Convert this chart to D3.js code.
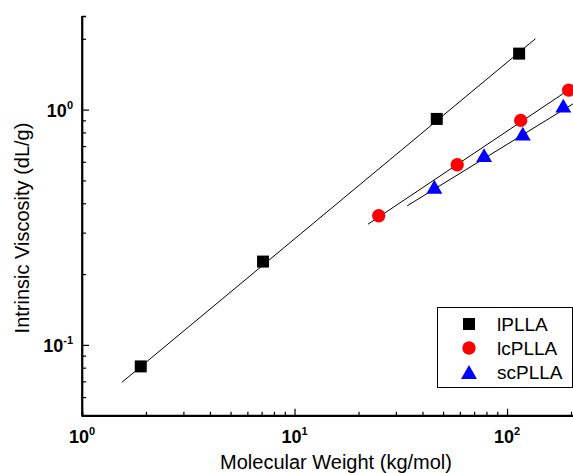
<!DOCTYPE html>
<html>
<head>
<meta charset="utf-8">
<script src="https://cdn.jsdelivr.net/npm/d3@7"></script>
<style>
  html, body { margin: 0; padding: 0; background: #fff; }
  svg { display: block; }
  text { font-family: "Liberation Sans", Arial, Helvetica, sans-serif; fill: #000; }
</style>
</head>
<body>
<svg id="chart" width="573" height="473"></svg>
<script>
// Mark–Houwink data: molecular weight (kg/mol) vs intrinsic viscosity (dL/g)
const seriesNames = ["lPLLA", "lcPLLA", "scPLLA"];
const seriesColors = ["#000000", "#ff0000", "#0000ff"];
const seriesShapes = ["square", "circle", "triangle"];

const lPLLA  = [[1.89, 0.081], [7.11, 0.226], [46.7, 0.913], [114, 1.73]];
const lcPLLA = [[24.9, 0.354], [58.3, 0.583], [116, 0.900], [195, 1.21]];
const scPLLA = [[45.5, 0.470], [78.0, 0.640], [118.6, 0.791], [184, 1.04]];

// straight-line (log-log) fits, given by their two end points
const fitLPLLA  = [[1.54, 0.0693], [136, 2.00]];
const fitLcPLLA = [[22.2, 0.326], [230, 1.34]];
const fitScPLLA = [[33.9, 0.390], [230, 1.13]];

const xMajorTicks = [1, 10, 100];
const yMajorTicks = [0.1, 1];
const tickExponents = { 1: "0", 10: "1", 100: "2", 0.1: "-1" };

const series = [lPLLA, lcPLLA, scPLLA];
const fits = [fitLPLLA, fitLcPLLA, fitScPLLA];

const svg = d3.select("#chart");

const x = d3.scaleLog().domain([1, 220]).range([82, 579.8]);
const y = d3.scaleLog().domain([0.05, 2.5]).range([415.7, 16]);

const xMinor = [];
[1, 10, 100].forEach(d => { for (let k = 2; k <= 9; k++) { const v = d * k; if (v < 220) xMinor.push(v); } });
const yMinor = [];
[0.01, 0.1, 1].forEach(d => { for (let k = 2; k <= 9; k++) { const v = +(d * k).toFixed(4); if (v > 0.05 && v < 2.5) yMinor.push(v); } });

// fit lines
const line = d3.line().x(d => x(d[0])).y(d => y(d[1]));
svg.append("g").selectAll("path").data(fits).join("path")
  .attr("d", line)
  .attr("fill", "none")
  .attr("stroke", "#000")
  .attr("stroke-width", 1);

// symbols
const symbolFor = shape => {
  if (shape === "square") return d3.symbol(d3.symbolSquare, 144)();
  if (shape === "circle") return d3.symbol(d3.symbolCircle, 140)();
  return d3.symbol(d3.symbolTriangle, 110)();
};
// shift triangles so their bounding box is centred on the point
const shapeOffset = shape => shape === "triangle" ? 2.3 : 0;

series.forEach((pts, i) => {
  svg.append("g").selectAll("path").data(pts).join("path")
    .attr("d", symbolFor(seriesShapes[i]))
    .attr("transform", d => `translate(${x(d[0])},${y(d[1]) + shapeOffset(seriesShapes[i])})`)
    .attr("fill", seriesColors[i]);
});

// axes
const axisW = 1.7;
const xAxis = d3.axisBottom(x).tickValues(xMajorTicks).tickSize(-7).tickFormat("");
const gx = svg.append("g").attr("transform", "translate(0,415.7)").call(xAxis);
gx.append("g").call(d3.axisBottom(x).tickValues(xMinor).tickSize(-4).tickFormat(""));
const gy = svg.append("g").attr("transform", "translate(82,0)")
  .call(d3.axisLeft(y).tickValues(yMajorTicks).tickSize(-7).tickFormat(""));
gy.append("g").call(d3.axisLeft(y).tickValues(yMinor).tickSize(-4).tickFormat(""));

[gx, gy].forEach(g => {
  g.selectAll(".domain").attr("stroke", "#000").attr("stroke-width", axisW);
  g.selectAll(".tick line").attr("stroke", "#000").attr("stroke-width", 1.2);
  g.selectAll(".domain").attr("d", function() { return d3.select(this).attr("d").replace(/M[^H V]*/, m => m); });
});
// plain axis lines without end caps
gx.select(".domain").attr("d", `M${x.range()[0]},0H${x.range()[1]}`);
gy.select(".domain").attr("d", `M0,${y.range()[0]}V${y.range()[1]}`);

// tick labels: 10 with superscript exponent
function powLabel(sel, v) {
  sel.append("tspan").text("10").attr("font-size", 18).attr("font-weight", "bold");
  sel.append("tspan").text(tickExponents[v]).attr("font-size", 11).attr("font-weight", "bold").attr("dy", -8);
}
xMajorTicks.forEach(v => {
  const t = svg.append("text").attr("x", x(v)).attr("y", 443).attr("text-anchor", "middle");
  powLabel(t, v);
});
yMajorTicks.forEach(v => {
  const t = svg.append("text").attr("x", 73).attr("y", y(v) + 7).attr("text-anchor", "end");
  powLabel(t, v);
});

// axis titles
svg.append("text")
  .attr("x", 336).attr("y", 469)
  .attr("text-anchor", "middle").attr("font-size", 20)
  .text("Molecular Weight (kg/mol)");
svg.append("text")
  .attr("transform", "translate(28.5,228) rotate(-90)")
  .attr("text-anchor", "middle").attr("font-size", 20)
  .text("Intrinsic Viscosity (dL/g)");

// legend
const lg = svg.append("g");
lg.append("rect")
  .attr("x", 437.5).attr("y", 307.5).attr("width", 135).attr("height", 80)
  .attr("fill", "#fff").attr("stroke", "#000").attr("stroke-width", 1);
const legendRows = [324, 348, 372];
seriesNames.forEach((name, i) => {
  lg.append("path")
    .attr("d", symbolFor(seriesShapes[i]))
    .attr("transform", `translate(469,${legendRows[i] + shapeOffset(seriesShapes[i])})`)
    .attr("fill", seriesColors[i]);
  lg.append("text")
    .attr("x", 497).attr("y", legendRows[i] + 7)
    .attr("font-size", 19)
    .text(name);
});
</script>
</body>
</html>
